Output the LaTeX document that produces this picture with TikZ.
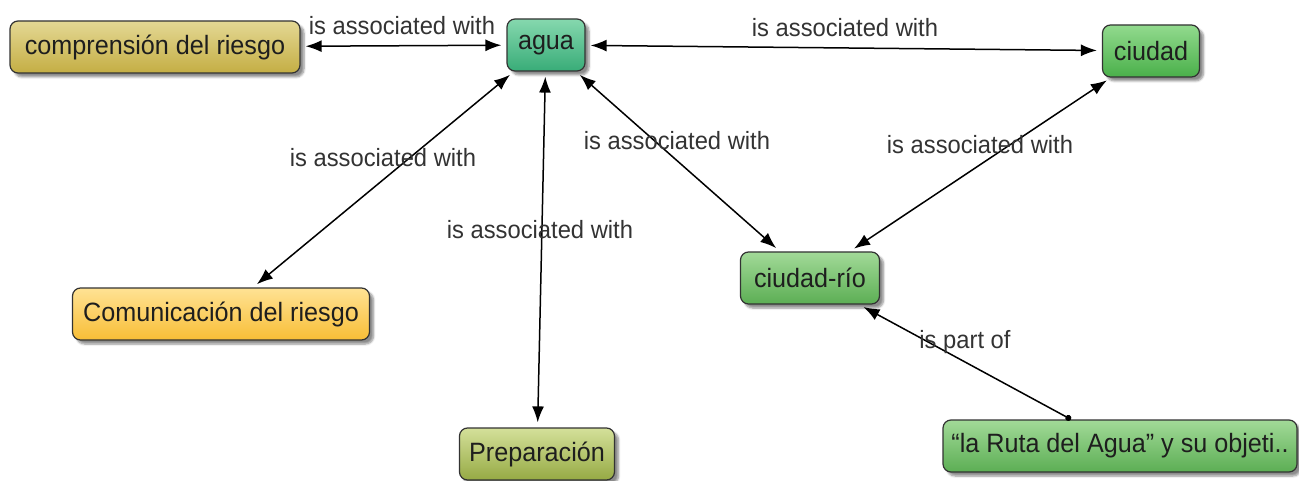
\documentclass[tikz,border=0pt]{standalone}
\usepackage{fontspec}
\setmainfont[FakeStretch=0.95]{Liberation Sans}
\usetikzlibrary{arrows.meta,shadows.blur}

\definecolor{txt}{HTML}{1E1E1E}
\definecolor{lbl}{HTML}{333333}
\definecolor{cGoldT}{HTML}{E4D894}
\definecolor{cGoldB}{HTML}{C4AE44}
\definecolor{cTealT}{HTML}{86D8AE}
\definecolor{cTealB}{HTML}{38AC78}
\definecolor{cLeafT}{HTML}{92DA8E}
\definecolor{cLeafB}{HTML}{4AB04A}
\definecolor{cSageT}{HTML}{A2DA98}
\definecolor{cSageB}{HTML}{5CAE54}
\definecolor{cAmberT}{HTML}{FFE294}
\definecolor{cAmberB}{HTML}{F8BE36}
\definecolor{cOliveT}{HTML}{D4E09A}
\definecolor{cOliveB}{HTML}{96AA44}

\tikzset{
  concept/.style={draw=black!80, line width=1.2pt, rounded corners=8pt,
    minimum height=52pt, inner sep=2pt, text=txt,
    font=\fontsize{26.5}{30}\selectfont,
    blur shadow={shadow xshift=4pt, shadow yshift=-4pt, shadow opacity=45,
      shadow blur steps=6, shadow blur extra rounding=2pt}},
  gold/.style={top color=cGoldT, bottom color=cGoldB},
  teal/.style={top color=cTealT, bottom color=cTealB},
  leaf/.style={top color=cLeafT, bottom color=cLeafB},
  sage/.style={top color=cSageT, bottom color=cSageB},
  amber/.style={top color=cAmberT, bottom color=cAmberB},
  olive/.style={top color=cOliveT, bottom color=cOliveB},
  linkname/.style={text=lbl, font=\fontsize{25}{28}\selectfont, inner sep=0pt},
  tip/.style={Latex[length=16pt,width=12pt]},
  assoc/.style={line width=1.5pt, draw=black,
    {Latex[length=16pt,width=12pt]}-{Latex[length=16pt,width=12pt]},
    shorten <=5pt, shorten >=5pt},
  partof/.style={line width=1.5pt, draw=black,
    {Circle[length=6pt]}-{Latex[length=16pt,width=12pt]},
    shorten >=5pt}
}

\begin{document}
\begin{tikzpicture}[x=1pt, y=-1pt]
  \useasboundingbox (0,0) rectangle (1299,481);

  % concepts
  \node[concept, gold,  minimum width=290pt] (comp) at (155,47)  {comprensión del riesgo};
  \node[concept, teal,  minimum width=78pt]  (agua) at (546,45)  {agua};
  \node[concept, leaf,  minimum width=97pt]  (ciudad) at (1151,51) {ciudad};
  \node[concept, sage,  minimum width=139pt] (rio) at (810,278)  {ciudad-río};
  \node[concept, amber, minimum width=297pt] (com) at (221,314)  {Comunicación del riesgo};
  \node[concept, olive, minimum width=155pt] (prep) at (537,454) {Preparación};
  \node[concept, sage,  minimum width=354pt] (ruta) at (1120,446) {“la Ruta del Agua” y su objeti..};

  % links
  \draw[assoc] (comp) -- (agua);
  \draw[assoc] (agua) -- (ciudad);
  \draw[assoc] (agua) -- (com);
  \draw[assoc] (agua) -- (prep);
  \draw[assoc] (agua) -- (rio);
  \draw[assoc] (ciudad) -- (rio);
  \draw[partof] (ruta) -- (rio);

  % link names
  \node[linkname] (l1) at (402,26)  {is associated with};
  \node[linkname] (l2) at (845,28)  {is associated with};
  \node[linkname] (l3) at (383,158) {is associated with};
  \node[linkname] (l4) at (540,230) {is associated with};
  \node[linkname] (l5) at (677,141) {is associated with};
  \node[linkname] (l6) at (980,145) {is associated with};
  \node[linkname] (l7) at (965,342) {is part of};
\end{tikzpicture}
\end{document}
